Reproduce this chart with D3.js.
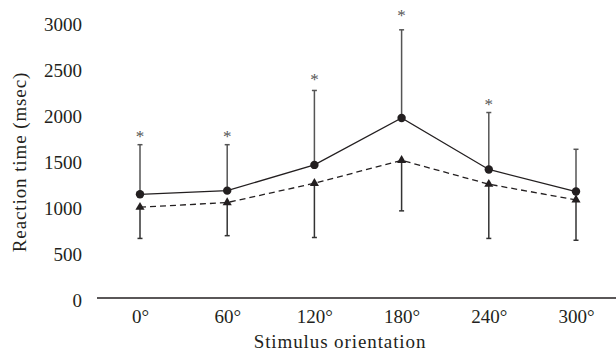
<!DOCTYPE html>
<html>
<head>
<meta charset="utf-8">
<script src="https://cdn.jsdelivr.net/npm/d3@7"></script>
<style>
  html, body { margin: 0; padding: 0; background: #fff; }
  svg { display: block; }
  text { font-family: "Liberation Serif", "Times New Roman", serif; fill: #231f20; }
</style>
</head>
<body>
<svg id="chart" width="616" height="356"></svg>
<script>
const categories = ["0°", "60°", "120°", "180°", "240°", "300°"];
const solidMeans = [1150, 1190, 1470, 1980, 1420, 1180];
const solidUpper = [1690, 1690, 2280, 2940, 2040, 1640];
const dashedMeans = [1010, 1060, 1270, 1520, 1260, 1090];
const dashedLower = [670, 700, 680, 970, 670, 650];
const significant = [true, true, true, true, true, false];
const starLevels = [1810, 1810, 2430, 3120, 2150, null];
const yTicks = [0, 500, 1000, 1500, 2000, 2500, 3000];
const xTitle = "Stimulus orientation";
const yTitle = "Reaction time (msec)";

const svg = d3.select("#chart");
const x = d3.scalePoint().domain(categories).range([140, 576]);
const y = d3.scaleLinear().domain([0, 3000]).range([300, 24.3]);

// baseline axis line
svg.append("line")
  .attr("x1", 97).attr("x2", 616)
  .attr("y1", 298).attr("y2", 298)
  .attr("stroke", "#231f20").attr("stroke-width", 1.4);

// y tick labels
const yAxis = d3.axisLeft(y).tickValues(yTicks).tickFormat(d3.format("d")).tickSize(0).tickPadding(0);
const gy = svg.append("g").attr("transform", "translate(82,0)").call(yAxis);
gy.select(".domain").remove();
gy.selectAll("text")
  .attr("font-size", 19)
  .attr("dy", "0.34em")
  .attr("x", 0)
  .attr("text-anchor", "end");

// x tick labels
const xAxis = d3.axisBottom(x).tickSize(0).tickPadding(0);
const gx = svg.append("g").call(xAxis);
gx.select(".domain").remove();
gx.selectAll("text")
  .attr("font-size", 19)
  .attr("y", 323)
  .attr("dy", 0);

// axis titles
svg.append("text")
  .attr("x", 340).attr("y", 348)
  .attr("text-anchor", "middle")
  .attr("font-size", 19)
  .attr("letter-spacing", "0.9px")
  .text(xTitle);

svg.append("text")
  .attr("transform", "translate(26,162) rotate(-90)")
  .attr("text-anchor", "middle")
  .attr("font-size", 19)
  .attr("letter-spacing", "0.9px")
  .text(yTitle);

const idx = d3.range(categories.length);

// error bars: upper for solid series, lower for dashed series
const cap = 2.5;
function errBar(cls, from, to, color) {
  const g = svg.append("g").attr("class", cls);
  g.selectAll("line.stem").data(idx).join("line")
    .attr("class", "stem")
    .attr("x1", i => x(categories[i])).attr("x2", i => x(categories[i]))
    .attr("y1", i => y(from[i])).attr("y2", i => y(to[i]))
    .attr("stroke", color).attr("stroke-width", 1.5);
  g.selectAll("line.cap").data(idx).join("line")
    .attr("class", "cap")
    .attr("x1", i => x(categories[i]) - cap).attr("x2", i => x(categories[i]) + cap)
    .attr("y1", i => y(to[i])).attr("y2", i => y(to[i]))
    .attr("stroke", color).attr("stroke-width", 1.5);
}
errBar("err-up", solidMeans, solidUpper, "#555");
errBar("err-down", dashedMeans, dashedLower, "#333");

// lines
const line = d3.line().x(d => x(d[0])).y(d => y(d[1]));
svg.append("path")
  .datum(categories.map((c, i) => [c, dashedMeans[i]]))
  .attr("d", line).attr("fill", "none")
  .attr("stroke", "#231f20").attr("stroke-width", 1.3)
  .attr("stroke-dasharray", "6,4");
svg.append("path")
  .datum(categories.map((c, i) => [c, solidMeans[i]]))
  .attr("d", line).attr("fill", "none")
  .attr("stroke", "#231f20").attr("stroke-width", 1.3);

// markers
const tri = d3.symbol().type(d3.symbolTriangle).size(36);
svg.selectAll("path.tri").data(idx).join("path")
  .attr("class", "tri")
  .attr("d", tri)
  .attr("transform", i => `translate(${x(categories[i])},${y(dashedMeans[i])})`)
  .attr("fill", "#231f20");
svg.selectAll("circle.dot").data(idx).join("circle")
  .attr("class", "dot")
  .attr("cx", i => x(categories[i]))
  .attr("cy", i => y(solidMeans[i]))
  .attr("r", 4.2)
  .attr("fill", "#231f20");

// significance asterisks
svg.selectAll("text.star").data(idx.filter(i => significant[i])).join("text")
  .attr("class", "star")
  .attr("x", i => x(categories[i]))
  .attr("y", i => y(starLevels[i]) + 8)
  .attr("text-anchor", "middle")
  .attr("font-size", 17)
  .style("fill", "#555")
  .text("*");
</script>
</body>
</html>
